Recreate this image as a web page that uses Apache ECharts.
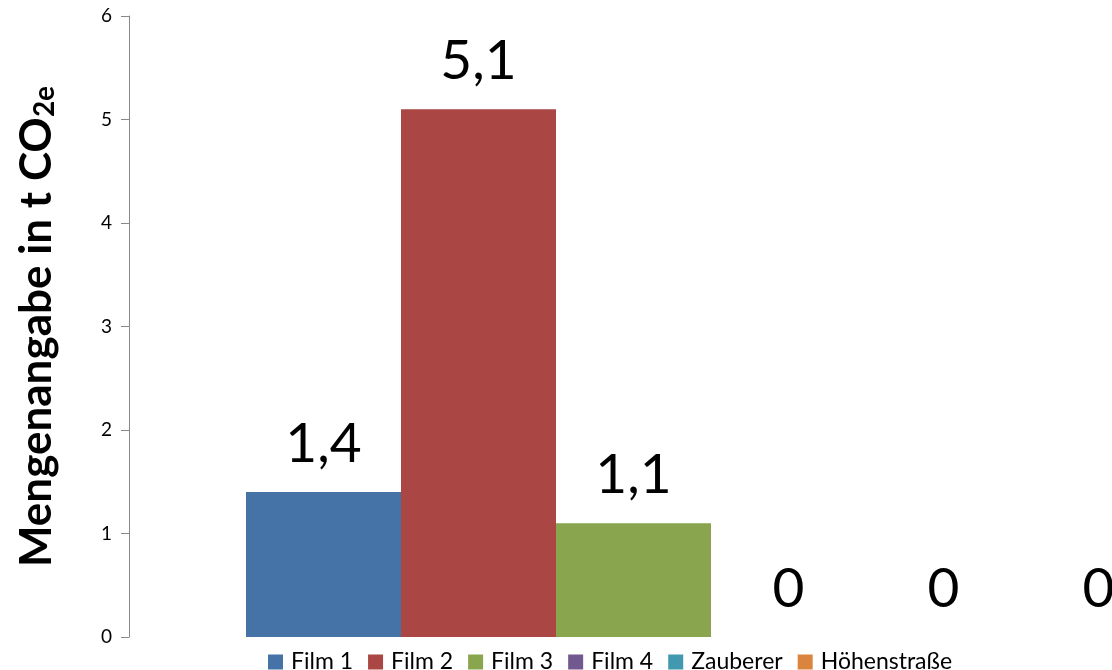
<!DOCTYPE html>
<html>
<head>
<meta charset="utf-8">
<style>
  html, body { margin: 0; padding: 0; background: #fff; }
  #chart { width: 1112px; height: 670px; }
</style>
<script src="https://cdn.jsdelivr.net/npm/echarts@6/dist/echarts.min.js"></script>
</head>
<body>
<div id="chart"></div>
<script>
// Daten
var categories = [''];
var seriesNames = ['Film 1', 'Film 2', 'Film 3', 'Film 4', 'Zauberer', 'Höhenstraße'];
var seriesValues = [1.4, 5.1, 1.1, 0, 0, 0];
var seriesColors = ['#4572A7', '#AA4643', '#89A54E', '#71588F', '#4198AF', '#DB843D'];
var yTicks = [0, 1, 2, 3, 4, 5, 6];

var font = 'Lato, "Open Sans", sans-serif';

var chart = echarts.init(document.getElementById('chart'), null, { renderer: 'canvas' });

var series = seriesNames.map(function(name, i) {
  return {
    name: name,
    type: 'bar',
    data: [seriesValues[i]],
    barWidth: 155,
    barGap: '0%',
    itemStyle: { color: seriesColors[i] },
    label: {
      show: true,
      position: 'top',
      distance: 20,
      color: '#000',
      fontFamily: font,
      fontSize: 55,
      formatter: function(p) { return String(p.value).replace('.', ','); }
    }
  };
});

chart.setOption({
  animation: false,
  backgroundColor: '#fff',
  textStyle: { fontFamily: font },
  // Plotbereich reicht rechts über den Rand hinaus (wie im Original)
  grid: { left: 129, top: 16, bottom: 33, width: 1164, containLabel: false, outerBoundsMode: 'none' },
  legend: {
    data: seriesNames,
    left: 263,
    top: 645,
    icon: 'rect',
    itemWidth: 15,
    itemHeight: 15,
    itemGap: 15,
    textStyle: { color: '#000', fontSize: 23, lineHeight: 24, fontFamily: font, padding: [0, 0, 0, 3] }
  },
  xAxis: {
    type: 'category',
    data: categories,
    axisLine: { show: false },
    axisTick: { show: false },
    axisLabel: { show: false }
  },
  yAxis: {
    type: 'value',
    min: yTicks[0],
    max: yTicks[yTicks.length - 1],
    interval: 1,
    name: '{main|Mengenangabe in t CO}{sub|2e}',
    nameLocation: 'middle',
    nameRotate: 90,
    nameGap: 70,
    nameTextStyle: {
      rich: {
        main: { fontSize: 44, fontWeight: 'bold', color: '#000', fontFamily: font },
        sub: { fontSize: 28, fontWeight: 'bold', color: '#000', fontFamily: font, verticalAlign: 'bottom', padding: [17, 0, 0, 0] }
      }
    },
    axisLine: { show: true, lineStyle: { color: '#888', width: 1 } },
    axisTick: { show: true, length: 8, lineStyle: { color: '#888' } },
    axisLabel: { color: '#000', fontSize: 19, fontFamily: font, margin: 17 },
    splitLine: { show: false }
  },
  series: series
});
</script>
</body>
</html>
